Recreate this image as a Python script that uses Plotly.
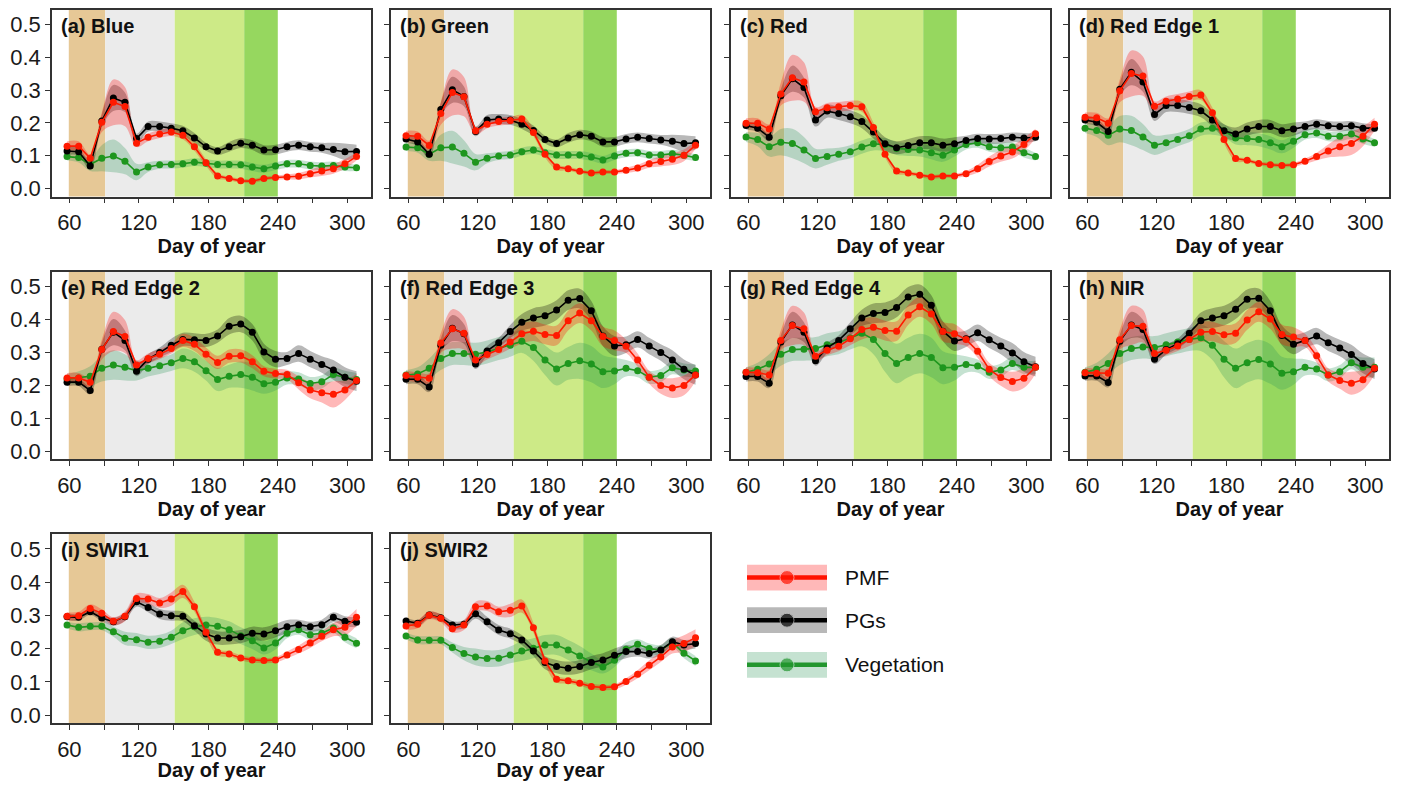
import plotly.graph_objects as go

DAYS = [58, 68, 78, 88, 98, 108, 118, 128, 138, 148, 158, 168, 178, 188, 198, 208, 218, 228, 238, 248, 258, 268, 278, 288, 298, 308]
PANEL_TITLES = ["(a) Blue", "(b) Green", "(c) Red", "(d) Red Edge 1", "(e) Red Edge 2",
                "(f) Red Edge 3", "(g) Red Edge 4", "(h) NIR", "(i) SWIR1", "(j) SWIR2"]
SERIES = ["PMF", "PGs", "Vegetation"]
Y_TICKS = [0.0, 0.1, 0.2, 0.3, 0.4, 0.5]
Y_TICK_LABELS = ["0.0", "0.1", "0.2", "0.3", "0.4", "0.5"]
X_TICKS = [60, 90, 120, 150, 180, 210, 240, 270, 300]
X_TICK_LABELS = ["60", "", "120", "", "180", "", "240", "", "300"]
# phenological periods (start, end) in day of year
PERIODS = [(59.5, 91), (91, 151), (151, 211), (211, 240)]

# ---- mean reflectance (PMF, PGs, Vegetation) per band ----
pmf_a = [0.129,0.129,0.092,0.202,0.263,0.250,0.138,0.156,0.166,0.172,0.162,0.127,0.078,0.038,0.030,0.023,0.022,0.030,0.033,0.035,0.037,0.045,0.053,0.060,0.075,0.097]
pg_a  = [0.114,0.112,0.068,0.206,0.276,0.263,0.152,0.189,0.189,0.184,0.176,0.154,0.127,0.114,0.127,0.138,0.132,0.117,0.118,0.127,0.132,0.127,0.124,0.119,0.112,0.113]
veg_a = [0.097,0.094,0.073,0.092,0.099,0.083,0.050,0.065,0.072,0.073,0.075,0.080,0.077,0.073,0.073,0.072,0.065,0.060,0.068,0.075,0.075,0.070,0.068,0.070,0.065,0.063]

pmf_b = [0.161,0.159,0.131,0.229,0.293,0.280,0.176,0.196,0.204,0.207,0.212,0.171,0.104,0.065,0.060,0.052,0.047,0.050,0.050,0.055,0.062,0.075,0.082,0.089,0.101,0.132]
pg_b  = [0.151,0.142,0.104,0.241,0.301,0.281,0.174,0.209,0.212,0.209,0.196,0.177,0.149,0.137,0.154,0.164,0.159,0.142,0.142,0.151,0.156,0.152,0.148,0.144,0.137,0.139]
veg_b = [0.126,0.124,0.104,0.124,0.126,0.107,0.080,0.092,0.099,0.102,0.112,0.117,0.109,0.102,0.102,0.102,0.096,0.087,0.099,0.107,0.109,0.102,0.102,0.106,0.101,0.094]

pmf_c = [0.199,0.199,0.181,0.288,0.338,0.325,0.234,0.246,0.249,0.253,0.249,0.186,0.104,0.053,0.047,0.040,0.035,0.038,0.038,0.045,0.060,0.082,0.099,0.111,0.134,0.167]
pg_c  = [0.192,0.184,0.156,0.283,0.335,0.308,0.209,0.236,0.229,0.219,0.204,0.172,0.136,0.124,0.131,0.139,0.139,0.132,0.136,0.146,0.152,0.151,0.152,0.156,0.154,0.156]
veg_c = [0.157,0.149,0.127,0.141,0.137,0.117,0.091,0.097,0.104,0.112,0.126,0.136,0.134,0.122,0.119,0.117,0.109,0.101,0.117,0.134,0.139,0.127,0.124,0.126,0.109,0.097]

pmf_d = [0.217,0.216,0.199,0.298,0.351,0.343,0.251,0.266,0.273,0.281,0.285,0.231,0.149,0.091,0.086,0.076,0.072,0.070,0.072,0.083,0.097,0.114,0.127,0.137,0.159,0.196]
pg_d  = [0.209,0.202,0.174,0.303,0.355,0.325,0.226,0.253,0.253,0.247,0.237,0.209,0.176,0.166,0.181,0.189,0.189,0.176,0.181,0.189,0.196,0.191,0.189,0.191,0.184,0.184]
veg_d = [0.184,0.177,0.162,0.181,0.177,0.157,0.132,0.139,0.149,0.161,0.181,0.184,0.176,0.154,0.152,0.149,0.139,0.127,0.144,0.164,0.169,0.159,0.159,0.166,0.151,0.139]

pmf_e = [0.223,0.223,0.210,0.309,0.364,0.349,0.262,0.282,0.295,0.312,0.337,0.325,0.295,0.270,0.289,0.290,0.272,0.243,0.236,0.233,0.208,0.186,0.178,0.173,0.186,0.215]
pg_e  = [0.210,0.210,0.185,0.310,0.362,0.337,0.243,0.280,0.300,0.322,0.340,0.339,0.337,0.350,0.380,0.387,0.362,0.302,0.280,0.282,0.297,0.280,0.264,0.247,0.225,0.213]
veg_e = [0.220,0.223,0.228,0.252,0.262,0.255,0.245,0.252,0.260,0.269,0.282,0.272,0.245,0.218,0.228,0.233,0.225,0.205,0.210,0.223,0.220,0.206,0.211,0.233,0.225,0.218]

pmf_f = [0.230,0.225,0.222,0.329,0.372,0.359,0.277,0.294,0.309,0.332,0.357,0.365,0.355,0.352,0.397,0.420,0.397,0.349,0.337,0.319,0.277,0.225,0.200,0.192,0.200,0.232]
pg_f  = [0.219,0.219,0.195,0.322,0.374,0.357,0.265,0.305,0.330,0.364,0.392,0.405,0.412,0.429,0.459,0.464,0.427,0.350,0.320,0.324,0.340,0.320,0.300,0.277,0.249,0.232]
veg_f = [0.232,0.235,0.252,0.282,0.297,0.297,0.295,0.302,0.312,0.322,0.334,0.315,0.277,0.250,0.267,0.275,0.265,0.242,0.244,0.252,0.245,0.225,0.230,0.254,0.247,0.244]

pmf_g = [0.240,0.239,0.232,0.337,0.382,0.372,0.289,0.307,0.319,0.342,0.370,0.377,0.367,0.365,0.414,0.439,0.417,0.364,0.357,0.340,0.304,0.249,0.224,0.212,0.222,0.255]
pg_g  = [0.227,0.227,0.207,0.332,0.384,0.362,0.275,0.314,0.337,0.372,0.405,0.419,0.422,0.437,0.469,0.477,0.444,0.365,0.335,0.342,0.360,0.339,0.320,0.299,0.272,0.257]
veg_g = [0.240,0.249,0.265,0.295,0.309,0.310,0.312,0.324,0.330,0.344,0.359,0.340,0.297,0.267,0.285,0.297,0.285,0.254,0.255,0.264,0.259,0.240,0.247,0.267,0.255,0.255]

pmf_h = [0.239,0.237,0.237,0.339,0.382,0.380,0.297,0.307,0.320,0.340,0.362,0.364,0.354,0.359,0.399,0.424,0.402,0.355,0.347,0.337,0.290,0.232,0.215,0.207,0.217,0.252]
pg_h  = [0.229,0.229,0.209,0.334,0.384,0.370,0.280,0.309,0.327,0.359,0.397,0.405,0.412,0.432,0.462,0.465,0.427,0.352,0.325,0.337,0.350,0.330,0.314,0.294,0.267,0.250]
veg_h = [0.240,0.249,0.267,0.297,0.312,0.317,0.315,0.324,0.332,0.340,0.345,0.322,0.280,0.252,0.269,0.279,0.265,0.237,0.242,0.255,0.250,0.232,0.242,0.269,0.255,0.255]

pmf_i = [0.297,0.299,0.321,0.306,0.282,0.297,0.351,0.349,0.337,0.349,0.372,0.326,0.249,0.189,0.184,0.172,0.166,0.164,0.166,0.181,0.197,0.217,0.237,0.257,0.264,0.294]
pg_i  = [0.296,0.294,0.311,0.292,0.281,0.296,0.341,0.324,0.304,0.299,0.297,0.269,0.244,0.232,0.232,0.236,0.246,0.244,0.254,0.266,0.272,0.266,0.272,0.294,0.282,0.279]
veg_i = [0.271,0.264,0.267,0.267,0.251,0.231,0.227,0.219,0.222,0.234,0.254,0.266,0.271,0.267,0.257,0.239,0.224,0.202,0.217,0.246,0.257,0.242,0.246,0.262,0.234,0.216]

pmf_j = [0.268,0.273,0.300,0.291,0.260,0.271,0.326,0.328,0.311,0.315,0.328,0.263,0.163,0.108,0.103,0.096,0.086,0.083,0.085,0.101,0.123,0.150,0.175,0.205,0.215,0.233]
pg_j  = [0.283,0.276,0.301,0.293,0.271,0.273,0.305,0.281,0.256,0.245,0.226,0.193,0.158,0.146,0.141,0.146,0.158,0.166,0.180,0.191,0.191,0.185,0.196,0.221,0.211,0.215]
veg_j = [0.238,0.226,0.225,0.225,0.203,0.185,0.175,0.170,0.171,0.181,0.193,0.201,0.211,0.211,0.196,0.178,0.160,0.145,0.165,0.198,0.213,0.200,0.196,0.218,0.186,0.163]

# ---- half-widths of the uncertainty ribbons ----
sdp_a = [0.015,0.015,0.012,0.030,0.070,0.060,0.012,0.012,0.012,0.012,0.012,0.012,0.010,0.008,0.006,0.006,0.006,0.006,0.006,0.008,0.010,0.012,0.015,0.015,0.015,0.012]
sdg_a = [0.012,0.012,0.010,0.020,0.040,0.030,0.015,0.015,0.015,0.015,0.015,0.015,0.012,0.012,0.015,0.015,0.015,0.015,0.015,0.015,0.015,0.015,0.015,0.020,0.025,0.020]
sdv_a = [0.012,0.015,0.020,0.040,0.050,0.040,0.025,0.015,0.012,0.012,0.012,0.012,0.012,0.012,0.012,0.012,0.012,0.012,0.012,0.012,0.012,0.012,0.012,0.012,0.012,0.010]

sdp_b = [0.015,0.015,0.015,0.035,0.070,0.060,0.012,0.012,0.012,0.012,0.012,0.012,0.010,0.008,0.006,0.006,0.006,0.006,0.006,0.008,0.010,0.012,0.015,0.018,0.018,0.012]
sdg_b = [0.012,0.012,0.012,0.020,0.040,0.030,0.015,0.015,0.015,0.015,0.015,0.015,0.012,0.012,0.015,0.015,0.015,0.015,0.015,0.015,0.015,0.015,0.015,0.020,0.025,0.020]
sdv_b = [0.012,0.015,0.020,0.040,0.050,0.040,0.025,0.015,0.012,0.012,0.012,0.012,0.012,0.012,0.012,0.012,0.012,0.012,0.012,0.012,0.012,0.012,0.012,0.012,0.012,0.010]

sdp_c = [0.015,0.015,0.015,0.035,0.070,0.060,0.015,0.015,0.015,0.015,0.015,0.015,0.010,0.008,0.006,0.006,0.006,0.006,0.006,0.008,0.012,0.015,0.018,0.020,0.020,0.015]
sdg_c = [0.012,0.012,0.012,0.020,0.040,0.030,0.020,0.020,0.020,0.020,0.020,0.020,0.020,0.020,0.020,0.020,0.020,0.020,0.020,0.015,0.015,0.015,0.015,0.015,0.015,0.012]
sdv_c = [0.015,0.020,0.030,0.040,0.045,0.040,0.030,0.025,0.020,0.020,0.020,0.020,0.020,0.020,0.020,0.020,0.020,0.020,0.020,0.015,0.015,0.015,0.015,0.015,0.015,0.012]

sdp_d = [0.015,0.015,0.015,0.035,0.070,0.060,0.015,0.015,0.015,0.015,0.015,0.015,0.012,0.008,0.006,0.006,0.006,0.006,0.006,0.008,0.012,0.020,0.030,0.035,0.030,0.020]
sdg_d = [0.012,0.012,0.012,0.020,0.040,0.030,0.020,0.020,0.020,0.020,0.020,0.020,0.020,0.020,0.020,0.020,0.020,0.020,0.020,0.015,0.015,0.015,0.015,0.015,0.015,0.012]
sdv_d = [0.015,0.020,0.030,0.040,0.045,0.040,0.030,0.025,0.020,0.020,0.020,0.020,0.020,0.020,0.020,0.020,0.020,0.020,0.020,0.015,0.015,0.015,0.015,0.015,0.015,0.012]

sdp_e = [0.015,0.015,0.015,0.030,0.060,0.050,0.015,0.015,0.015,0.015,0.020,0.020,0.020,0.020,0.020,0.020,0.020,0.015,0.015,0.015,0.020,0.025,0.030,0.040,0.030,0.020]
sdg_e = [0.012,0.012,0.012,0.020,0.040,0.030,0.015,0.015,0.015,0.020,0.020,0.020,0.020,0.020,0.025,0.025,0.025,0.025,0.025,0.020,0.025,0.025,0.025,0.030,0.030,0.030]
sdv_e = [0.015,0.020,0.030,0.040,0.045,0.040,0.030,0.025,0.025,0.025,0.030,0.030,0.030,0.035,0.035,0.040,0.040,0.030,0.025,0.020,0.020,0.020,0.020,0.020,0.020,0.020]

sdp_f = [0.015,0.015,0.015,0.030,0.060,0.050,0.015,0.015,0.015,0.020,0.030,0.030,0.030,0.030,0.030,0.030,0.030,0.030,0.030,0.020,0.020,0.020,0.025,0.030,0.030,0.020]
sdg_f = [0.015,0.015,0.015,0.020,0.040,0.030,0.015,0.015,0.015,0.020,0.025,0.030,0.030,0.030,0.030,0.030,0.030,0.030,0.030,0.025,0.025,0.025,0.025,0.030,0.030,0.030]
sdv_f = [0.015,0.020,0.030,0.035,0.035,0.035,0.035,0.035,0.035,0.035,0.035,0.040,0.045,0.050,0.050,0.055,0.055,0.050,0.040,0.025,0.020,0.020,0.020,0.020,0.020,0.020]

sdp_g = [0.015,0.015,0.015,0.030,0.060,0.050,0.015,0.015,0.015,0.020,0.030,0.030,0.030,0.030,0.030,0.030,0.030,0.030,0.030,0.020,0.020,0.020,0.025,0.030,0.030,0.020]
sdg_g = [0.015,0.015,0.015,0.020,0.040,0.030,0.015,0.015,0.015,0.020,0.025,0.030,0.030,0.030,0.030,0.030,0.030,0.030,0.030,0.025,0.025,0.025,0.025,0.030,0.030,0.030]
sdv_g = [0.015,0.020,0.030,0.035,0.035,0.035,0.035,0.035,0.035,0.035,0.040,0.045,0.055,0.060,0.060,0.060,0.060,0.050,0.040,0.025,0.020,0.020,0.020,0.020,0.020,0.020]

sdp_h = [0.015,0.015,0.015,0.030,0.060,0.050,0.015,0.015,0.015,0.020,0.030,0.030,0.030,0.030,0.030,0.030,0.030,0.030,0.030,0.020,0.020,0.020,0.025,0.035,0.030,0.020]
sdg_h = [0.015,0.015,0.015,0.020,0.040,0.030,0.015,0.015,0.015,0.020,0.025,0.030,0.030,0.030,0.030,0.030,0.030,0.030,0.030,0.025,0.025,0.025,0.025,0.030,0.030,0.030]
sdv_h = [0.015,0.020,0.030,0.035,0.035,0.035,0.035,0.035,0.035,0.035,0.040,0.045,0.055,0.060,0.060,0.060,0.060,0.050,0.040,0.025,0.020,0.020,0.020,0.020,0.030,0.030]

sdp_i = [0.012,0.012,0.012,0.012,0.012,0.015,0.015,0.015,0.015,0.020,0.020,0.015,0.012,0.010,0.008,0.008,0.008,0.008,0.008,0.010,0.012,0.015,0.015,0.020,0.025,0.025]
sdg_i = [0.010,0.010,0.010,0.010,0.012,0.012,0.015,0.015,0.015,0.015,0.015,0.015,0.020,0.020,0.020,0.020,0.020,0.020,0.020,0.020,0.015,0.015,0.015,0.015,0.015,0.015]
sdv_i = [0.010,0.012,0.012,0.012,0.015,0.020,0.020,0.020,0.020,0.020,0.025,0.025,0.025,0.025,0.025,0.025,0.025,0.020,0.020,0.015,0.015,0.015,0.015,0.015,0.015,0.015]

sdp_j = [0.012,0.012,0.012,0.012,0.012,0.015,0.015,0.015,0.015,0.020,0.020,0.015,0.012,0.010,0.008,0.008,0.008,0.008,0.008,0.010,0.012,0.015,0.015,0.020,0.025,0.025]
sdg_j = [0.010,0.010,0.010,0.010,0.012,0.012,0.015,0.015,0.015,0.015,0.015,0.015,0.020,0.020,0.020,0.020,0.020,0.020,0.020,0.020,0.015,0.015,0.015,0.015,0.015,0.015]
sdv_j = [0.010,0.012,0.012,0.012,0.015,0.020,0.025,0.025,0.025,0.025,0.030,0.030,0.030,0.030,0.030,0.030,0.025,0.020,0.020,0.020,0.015,0.015,0.015,0.015,0.015,0.015]

PMF = [pmf_a, pmf_b, pmf_c, pmf_d, pmf_e, pmf_f, pmf_g, pmf_h, pmf_i, pmf_j]
PGS = [pg_a, pg_b, pg_c, pg_d, pg_e, pg_f, pg_g, pg_h, pg_i, pg_j]
VEG = [veg_a, veg_b, veg_c, veg_d, veg_e, veg_f, veg_g, veg_h, veg_i, veg_j]
SD_PMF = [sdp_a, sdp_b, sdp_c, sdp_d, sdp_e, sdp_f, sdp_g, sdp_h, sdp_i, sdp_j]
SD_PGS = [sdg_a, sdg_b, sdg_c, sdg_d, sdg_e, sdg_f, sdg_g, sdg_h, sdg_i, sdg_j]
SD_VEG = [sdv_a, sdv_b, sdv_c, sdv_d, sdv_e, sdv_f, sdv_g, sdv_h, sdv_i, sdv_j]

# ---- styling ----
PAGE_W, PAGE_H = 1406, 789
OFF = 8                      # default page body margin
W, H = PAGE_W - 2 * OFF, PAGE_H - 2 * OFF
FONT = "Liberation Sans, Arial, sans-serif"
LINE_COL = {"PMF": "#FF1A00", "PGs": "#000000", "Vegetation": "#1E961E"}
RIB_COL = {"PMF": "rgba(255,0,0,0.28)", "PGs": "rgba(0,0,0,0.28)", "Vegetation": "rgba(46,150,90,0.28)"}
PERIOD_COL = ["#E6C896", "#EBEBEB", "#CDEA87", "#96D75F"]

COL_PX = [(52, 371), (391, 710), (731, 1050), (1070, 1389)]
ROW_PX = [(6, 196), (272, 461), (536, 727)]
POS = [(0, 0), (0, 1), (0, 2), (0, 3), (1, 0), (1, 1), (1, 2), (1, 3), (2, 0), (2, 1)]


def px_x(px):
    return (px - OFF) / W


def px_y(py):
    return 1 - (py - OFF) / H


def xdom(c):
    return [px_x(COL_PX[c][0]), px_x(COL_PX[c][1])]


def ydom(r):
    return [px_y(ROW_PX[r][1]), max(0.0, min(1.0, px_y(ROW_PX[r][0])))]


fig = go.Figure()
layout = dict(
    width=W, height=H, margin=dict(l=0, r=0, t=0, b=0),
    paper_bgcolor="white", plot_bgcolor="white", showlegend=False,
    font=dict(family=FONT, color="#1a1a1a", size=22),
)
shapes = []
annotations = []

for k in range(10):
    r, c = POS[k]
    ax = "" if k == 0 else str(k + 1)
    xref, yref = "x" + ax, "y" + ax
    layout["xaxis" + ax] = dict(
        domain=xdom(c), anchor=yref, range=[45, 320.5],
        tickvals=X_TICKS, ticktext=X_TICK_LABELS, ticks="outside", ticklen=5,
        tickwidth=1.3, tickcolor="#333", showgrid=False, zeroline=False,
        showline=True, linecolor="#333", linewidth=1.5, mirror=True,
        tickfont=dict(size=22, color="#1a1a1a"),
        title=dict(text="<b>Day of year</b>", font=dict(size=20, color="#111"), standoff=2),
    )
    layout["yaxis" + ax] = dict(
        domain=ydom(r), anchor=xref, range=[-0.025, 0.545],
        tickvals=Y_TICKS, ticktext=Y_TICK_LABELS, ticks="outside", ticklen=5,
        tickwidth=1.3, tickcolor="#333", showgrid=False, zeroline=False,
        showline=True, linecolor="#333", linewidth=1.5, mirror=True,
        showticklabels=(c == 0), tickfont=dict(size=22, color="#1a1a1a"),
    )
    for (p0, p1), pc in zip(PERIODS, PERIOD_COL):
        shapes.append(dict(type="rect", xref=xref, yref=yref + " domain", x0=p0, x1=p1,
                           y0=0, y1=1, fillcolor=pc, line=dict(width=0), layer="below"))
    annotations.append(dict(text="<b>" + PANEL_TITLES[k] + "</b>", xref=xref + " domain",
                            yref=yref + " domain", x=0.022, y=0.985, xanchor="left", yanchor="top",
                            showarrow=False, font=dict(size=20, color="#111")))

    groups = [("Vegetation", VEG[k], SD_VEG[k]), ("PGs", PGS[k], SD_PGS[k]), ("PMF", PMF[k], SD_PMF[k])]
    for name, mean, sd in groups:
        hi = [m + s for m, s in zip(mean, sd)]
        lo = [m - s for m, s in zip(mean, sd)]
        fig.add_trace(go.Scatter(x=DAYS, y=hi, mode="lines", line=dict(width=0, shape="spline", smoothing=1),
                                 xaxis=xref, yaxis=yref, hoverinfo="skip"))
        fig.add_trace(go.Scatter(x=DAYS, y=lo, mode="lines", line=dict(width=0, shape="spline", smoothing=1),
                                 fill="tonexty", fillcolor=RIB_COL[name], xaxis=xref, yaxis=yref,
                                 hoverinfo="skip"))
    for name, mean, sd in groups:
        fig.add_trace(go.Scatter(x=DAYS, y=mean, mode="lines+markers", name=name,
                                 line=dict(color=LINE_COL[name], width=1.6),
                                 marker=dict(color=LINE_COL[name], size=7),
                                 xaxis=xref, yaxis=yref))

# ---- legend drawn in its own small axis (pixel-like coordinates) ----
LEG_X = (747, 827)
LEG_Y = [580, 623, 668]
layout["xaxis11"] = dict(domain=[px_x(LEG_X[0]), px_x(LEG_X[1])], range=list(LEG_X), visible=False,
                         anchor="y11", fixedrange=True)
layout["yaxis11"] = dict(domain=[px_y(700), px_y(550)], range=[700, 550], visible=False,
                         anchor="x11", fixedrange=True)
for name, yc in zip(SERIES, LEG_Y):
    shapes.append(dict(type="rect", xref="x11", yref="y11", x0=LEG_X[0], x1=LEG_X[1],
                       y0=yc - 13, y1=yc + 13, fillcolor=RIB_COL[name], line=dict(width=0)))
    fig.add_trace(go.Scatter(x=[LEG_X[0], (LEG_X[0] + LEG_X[1]) / 2, LEG_X[1]], y=[yc, yc, yc],
                             mode="lines+markers", line=dict(color=LINE_COL[name], width=4.5),
                             marker=dict(size=[0, 14, 0], color=LINE_COL[name]),
                             xaxis="x11", yaxis="y11", hoverinfo="skip"))
    annotations.append(dict(text=name, xref="paper", yref="paper", x=px_x(843), y=px_y(yc),
                            xanchor="left", yanchor="middle", showarrow=False,
                            font=dict(size=21, color="#111")))

layout["shapes"] = shapes
layout["annotations"] = annotations
fig.update_layout(**layout)
fig.write_html("out.html")
